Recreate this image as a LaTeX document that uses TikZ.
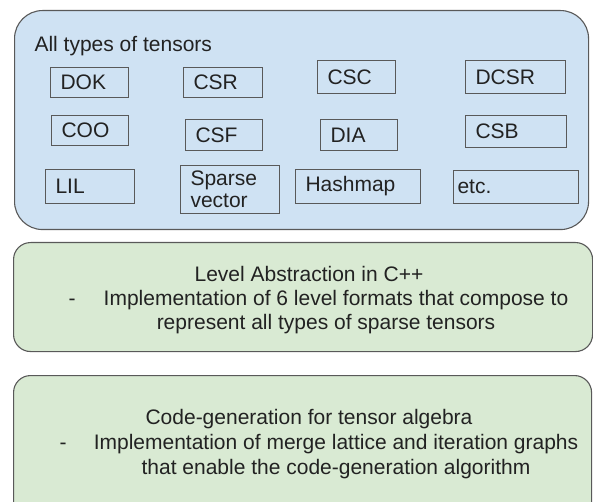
\documentclass[tikz,border=0pt]{standalone}
\usepackage{fontspec}
\setmainfont{Liberation Sans}
\usetikzlibrary{positioning}
\definecolor{tensorblue}{HTML}{CFE2F3}
\definecolor{levelgreen}{HTML}{D9EAD3}
\definecolor{rimgray}{HTML}{595959}
\definecolor{inkgray}{HTML}{222222}

\begin{document}
\begin{tikzpicture}[x=1pt, y=-1pt, line width=1.1pt,
    font=\fontsize{21}{22}\selectfont, text=inkgray,
    panel/.style={draw=rimgray, anchor=north west, inner sep=0pt},
    fmt/.style={draw=rimgray, anchor=north west, inner xsep=10pt, inner ysep=0pt, align=left},
    txt/.style={inner sep=0pt, anchor=base}]
  \useasboundingbox (0,0) rectangle (593,502);
  \clip (0,0) rectangle (593,502);

  % the three layers
  \node[panel, fill=tensorblue, rounded corners=28pt, minimum width=574pt, minimum height=219pt] (tensors) at (14,10) {};
  \node[panel, fill=levelgreen, rounded corners=17pt, minimum width=579pt, minimum height=109pt] (levels) at (13,242) {};
  \node[panel, fill=levelgreen, rounded corners=17pt, minimum width=578pt, minimum height=160pt] (codegen) at (13,375) {};

  % formats
  \node[txt, anchor=base west] (alltypes) at (34,52) {All types of tensors};
  \node[fmt, text width=58pt, minimum height=30pt] (dok) at (50,67) {DOK};
  \node[fmt, text width=59pt, minimum height=30pt] (csr) at (183,67) {CSR};
  \node[fmt, text width=58pt, minimum height=33pt] (csc) at (317,60) {CSC};
  \node[fmt, text width=80pt, minimum height=33pt] (dcsr) at (465,60) {DCSR};
  \node[fmt, text width=57pt, minimum height=30pt] (coo) at (51,115) {COO};
  \node[fmt, text width=57pt, minimum height=31pt] (csf) at (185,119) {CSF};
  \node[fmt, text width=57pt, minimum height=31pt] (dia) at (320,119) {DIA};
  \node[fmt, text width=81pt, minimum height=32pt] (csb) at (465,115) {CSB};
  \node[fmt, text width=69pt, minimum height=34pt] (lil) at (45,169) {LIL};
  \node[fmt, text width=79pt, minimum height=48pt] (spvec) at (180,165) {Sparse\\vector};
  \node[fmt, text width=105pt, minimum height=34pt] (hashmap) at (295,169) {Hashmap};
  \node[fmt, inner xsep=4pt, text width=117pt, minimum height=33pt] (etc) at (453,170) {etc.};

  % level abstraction
  \node[txt] (lvltitle) at (309,281) {Level Abstraction in C++};
  \node[txt] (lvldash) at (72,305) {-};
  \node[txt] (lvlline1) at (336,305) {Implementation of 6 level formats that compose to};
  \node[txt] (lvlline2) at (326,329) {represent all types of sparse tensors};

  % code generation
  \node[txt] (cgtitle) at (309,424) {Code-generation for tensor algebra};
  \node[txt] (cgdash) at (63,449) {-};
  \node[txt] (cgline1) at (336,449) {Implementation of merge lattice and iteration graphs};
  \node[txt] (cgline2) at (336,474) {that enable the code-generation algorithm};
\end{tikzpicture}
\end{document}
